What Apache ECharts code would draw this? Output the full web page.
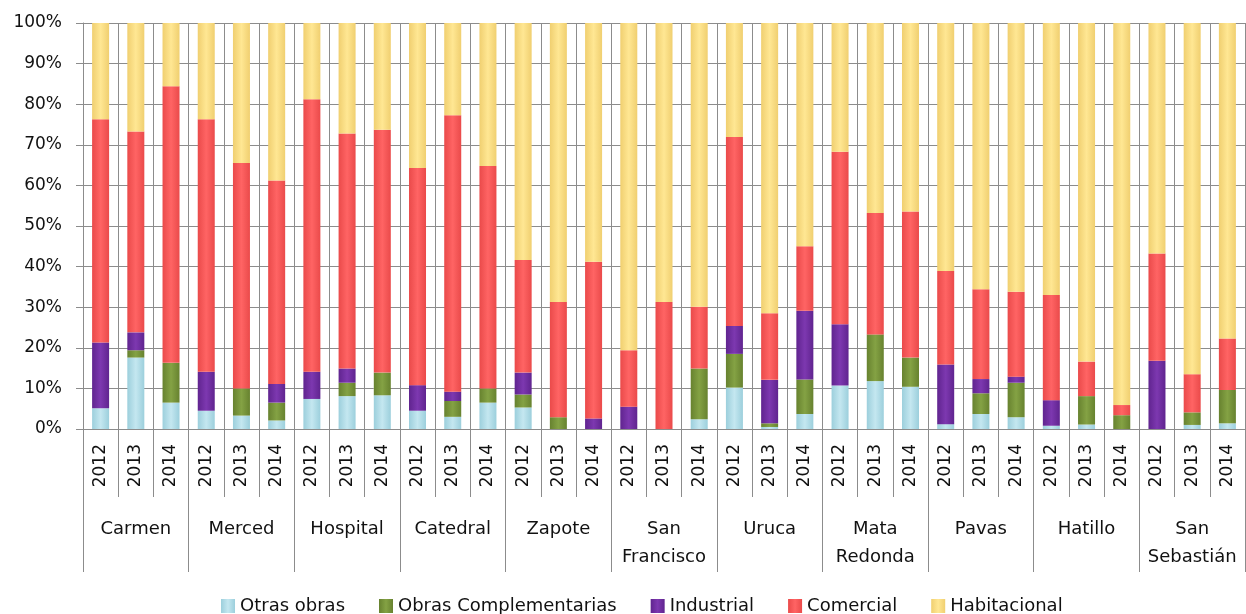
<!DOCTYPE html>
<html>
<head>
<meta charset="utf-8">
<script src="https://cdn.jsdelivr.net/npm/echarts@6/dist/echarts.min.js"></script>
<style>
  html, body { margin: 0; padding: 0; background: #fff; }
  #chart { width: 1246px; height: 614px; }
</style>
</head>
<body>
<div id="chart"></div>
<script>
// categorías
const distritos = ['Carmen', 'Merced', 'Hospital', 'Catedral', 'Zapote', 'San\nFrancisco',
  'Uruca', 'Mata\nRedonda', 'Pavas', 'Hatillo', 'San\nSebastián'];
const anios = ['2012', '2013', '2014'];

// porcentajes por barra (distrito x año)
const otrasObras = [5.1, 17.6, 6.5, 4.5, 3.3, 2.1, 7.4, 8.1, 8.3, 4.5, 3.0, 6.5, 5.3, 0, 0,
  0, 0, 2.4, 10.2, 0.5, 3.7, 10.7, 11.8, 10.4, 1.2, 3.7, 2.9, 0.8, 1.1, 0, 0, 1.0, 1.4];
const obrasComplementarias = [0, 1.8, 9.8, 0, 6.7, 4.4, 0, 3.3, 5.6, 0, 3.9, 3.5, 3.2, 2.9, 0,
  0, 0, 12.5, 8.3, 0.9, 8.5, 0, 11.5, 7.2, 0, 5.1, 8.5, 0, 7.0, 3.4, 0, 3.1, 8.2];
const industrial = [16.2, 4.4, 0, 9.6, 0, 4.6, 6.7, 3.5, 0, 6.3, 2.3, 0, 5.4, 0, 2.6,
  5.5, 0, 0, 6.9, 10.7, 16.9, 15.1, 0, 0, 14.7, 3.5, 1.5, 6.3, 0, 0, 16.8, 0, 0];
const comercial = [55.0, 49.5, 68.1, 62.2, 55.5, 50.1, 67.1, 57.9, 59.8, 53.5, 68.1, 54.8, 27.7, 28.4, 38.6,
  13.9, 31.3, 15.2, 46.5, 16.4, 15.9, 42.5, 29.9, 36.0, 23.0, 22.1, 20.9, 25.9, 8.5, 2.5, 26.4, 9.4, 12.7];
const habitacional = [23.7, 26.7, 15.6, 23.7, 34.5, 38.8, 18.8, 27.2, 26.3, 35.7, 22.7, 35.2, 58.4, 68.7, 58.8,
  80.6, 68.7, 69.9, 28.1, 71.5, 55.0, 31.7, 46.8, 46.4, 61.1, 65.6, 66.2, 67.0, 83.4, 94.1, 56.8, 86.5, 77.7];

const yTicks = [0, 10, 20, 30, 40, 50, 60, 70, 80, 90, 100];

// eje x de años repetido por distrito
const xAnios = [];
distritos.forEach(() => anios.forEach(a => xAnios.push(a)));

const fuente = 'DejaVu Sans';
const gris = '#8c8c8c';

// degradado tipo bisel de Excel
const bisel = (borde, centro) => new echarts.graphic.LinearGradient(0, 0, 1, 0, [
  { offset: 0, color: borde },
  { offset: 0.5, color: centro },
  { offset: 1, color: borde }
]);

const series = [
  { name: 'Otras obras', data: otrasObras, color: bisel('#9ccfdc', '#c4e7f0') },
  { name: 'Obras Complementarias', data: obrasComplementarias, color: bisel('#67822f', '#84a244') },
  { name: 'Industrial', data: industrial, color: bisel('#60248f', '#7d38b0') },
  { name: 'Comercial', data: comercial, color: bisel('#ea4a4a', '#ff6464') },
  { name: 'Habitacional', data: habitacional, color: bisel('#f0cf70', '#ffe793') }
].map(s => ({
  name: s.name,
  type: 'bar',
  stack: 'total',
  barWidth: 17,
  xAxisIndex: 0,
  data: s.data,
  itemStyle: { color: s.color },
  emphasis: { disabled: true }
}));

const chart = echarts.init(document.getElementById('chart'));
chart.setOption({
  animation: false,
  textStyle: { fontFamily: fuente },
  grid: { left: 83, right: 1, top: 23, bottom: 185, containLabel: false },
  legend: {
    left: 216,
    top: 592,
    icon: 'rect',
    itemWidth: 14,
    itemHeight: 14,
    itemGap: 34,
    textStyle: { fontFamily: fuente, fontSize: 18, color: '#111' },
    data: series.map(s => s.name)
  },
  xAxis: [
    {
      type: 'category',
      data: xAnios,
      position: 'bottom',
      axisLine: { show: true, lineStyle: { color: gris, width: 1 } },
      axisTick: { show: true, interval: 0, length: 68, lineStyle: { color: gris } },
      axisLabel: {
        interval: 0, rotate: 90, margin: 15,
        fontFamily: fuente, fontSize: 17, color: '#111'
      },
      splitLine: { show: true, interval: 0, lineStyle: { color: gris, width: 1 } }
    },
    {
      type: 'category',
      data: distritos,
      position: 'bottom',
      axisLine: { show: false },
      axisTick: { show: true, interval: 0, length: 143, lineStyle: { color: gris } },
      axisLabel: {
        interval: 0, margin: 86, lineHeight: 28,
        fontFamily: fuente, fontSize: 18, color: '#111'
      },
      splitLine: { show: false }
    }
  ],
  yAxis: {
    type: 'value',
    min: yTicks[0],
    max: yTicks[yTicks.length - 1],
    interval: 10,
    axisLine: { show: true, lineStyle: { color: gris } },
    axisTick: { show: true, length: 7, lineStyle: { color: gris } },
    axisLabel: {
      margin: 21,
      fontFamily: fuente, fontSize: 17, color: '#111',
      formatter: v => v + '%'
    },
    splitLine: { show: true, lineStyle: { color: gris, width: 1 } }
  },
  series: series
});
</script>
</body>
</html>
